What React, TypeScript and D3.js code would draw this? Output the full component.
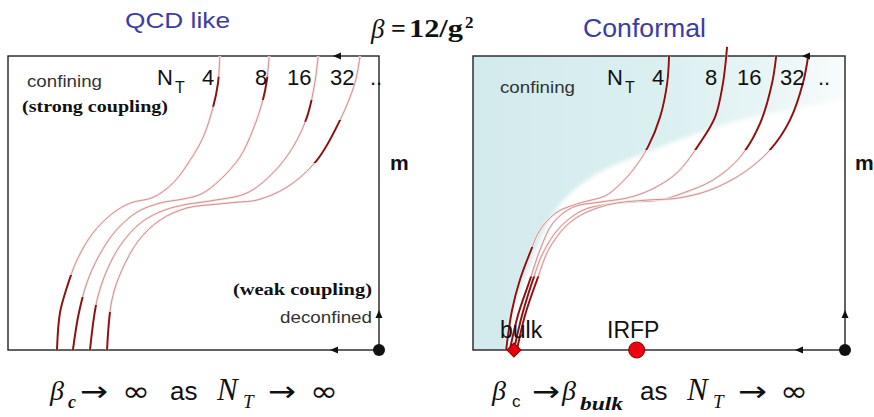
import React from "react";
import * as d3 from "d3";

type Pt = [number, number];

// ---- data (x: beta across the box 0..100, y: m from bottom 0..100) ----
const ntLabels = ["4", "8", "16", "32"];

// QCD-like panel: lines of constant N_T
const qcdNT4: Pt[] = [[13.2,0],[14,12.6],[15.9,21.4],[18.6,30.6],[22.9,39.8],[28.3,46.6],[33,50],[39.1,51.9],[44.5,56.8],[49.1,64.6],[52.6,72.4],[55.3,82.7],[56.6,90.8],[57.1,100]];
const qcdNT8: Pt[] = [[17.5,0],[19,12],[21.3,23],[24.5,32],[29,40.5],[34.8,46.9],[41,50],[47,51.3],[52,53],[57.1,57.8],[62.5,65.6],[66,74.8],[68.7,85],[69.8,92],[70.4,100]];
const qcdNT16: Pt[] = [[22.1,0],[24,17],[26.7,27.2],[30.5,36],[36,43.5],[42,47.5],[48,49.5],[55,50.8],[64.4,53.4],[71.4,60.2],[76.8,69],[80.6,79.3],[82.7,90.8],[83.6,100]];
const qcdNT32: Pt[] = [[26.7,0],[28,17],[30.7,27.2],[35.3,37.4],[41,44.2],[48.2,48.3],[56.3,49.6],[62,50.3],[67.1,51],[75.2,55.4],[83.3,64.6],[89.5,78.2],[93.5,90.8],[94.9,100]];

// Conformal panel
const confNT4: Pt[] = [[8.9,0],[10.5,13.6],[12.6,23.8],[15.3,33],[18,40.8],[22.6,46.9],[28.8,50],[35.5,52.4],[38.7,55.4],[43,61.2],[47,69],[50.3,79.3],[52.2,90.8],[52.7,100]];
const confNT8: Pt[] = [[9.9,0],[12.1,11.9],[15.3,23.8],[18,34],[21.5,43.2],[26.9,48.6],[34.1,50.3],[41.4,51.7],[47.6,54.4],[54.8,60.2],[61,70.4],[65.1,79.3],[67.2,90.8],[68.3,103.1]];
const confNT16: Pt[] = [[11,0],[13.2,11.9],[16.1,23.8],[18.8,33],[23.4,41.8],[29.6,47.6],[35,49.3],[41.4,50.3],[50.3,51],[56.5,53.4],[64.5,57.8],[71.8,65.6],[77.2,77.2],[80.4,90.8],[81.5,100]];
const confNT32: Pt[] = [[11.8,0],[14,11.9],[17.2,23.8],[20.7,35],[26.9,44.2],[36,49.3],[46.8,51],[54.8,51.6],[63.7,54.4],[72.6,60.2],[79.8,68],[85.2,78.2],[88.7,90.8],[90.1,100]];

// m-ranges where each line is drawn dark
const qcdDark: Pt[][] = [[[0,25.5],[82.7,92.9]],[[0,18],[85,92.9]],[[0,15.3],[77.6,85]],[[0,12.9],[63.6,78.2]]];
const confDark: Pt[][] = [[[0,35],[68,100]],[[0,25],[68,104]],[[0,25],[68,100]],[[0,25],[68,100]]];

// edge of the unshaded (deconfined) region in the conformal panel
const shadeEdge: Pt[] = [[9.1,0],[9.9,6.8],[11.8,17],[14.5,26.2],[17.2,35],[20.2,43.5],[23.9,50.3],[28.8,56.1],[34.1,60.5],[44.1,66],[57.5,72.4],[71,77.9],[88.7,82.7],[100,85.4]];

// special points on the beta axis of the conformal panel
const bulkBeta = 11.0;
const irfpBeta = 44.0;

// ---- layout ----
const W = 874, H = 417;
const leftBox = { x0: 8, x1: 379, y0: 56, y1: 350 };
const rightBox = { x0: 473, x1: 845, y0: 56, y1: 350 };
const SANS = "'Liberation Sans', Arial, sans-serif";
const SERIF = "'Liberation Serif', 'Times New Roman', serif";
const SYM = "'DejaVu Sans', sans-serif";
const BLUE = "#3c3ca6";
const THIN = "#cf9090";
const DARK = "#8c1212";

function scalesFor(b: typeof leftBox) {
  const x = d3.scaleLinear().domain([0, 100]).range([b.x0, b.x1]);
  const y = d3.scaleLinear().domain([0, 100]).range([b.y1, b.y0]);
  return { x, y };
}

function Arrow({ x, y, dir }: { x: number; y: number; dir: "left" | "up" }) {
  const L = 8, h = 3.5;
  const pts = dir === "left"
    ? [[x, y], [x + L, y - h], [x + L, y + h]]
    : [[x, y], [x - h, y + L], [x + h, y + L]];
  return <polygon points={pts.map(p => p.join(",")).join(" ")} fill="#111" />;
}

function Curves({ id, box, curves, dark }: { id: string; box: typeof leftBox; curves: Pt[][]; dark: Pt[][] }) {
  const { x, y } = scalesFor(box);
  const line = d3.line<Pt>().x(d => x(d[0])).y(d => y(d[1])).curve(d3.curveCatmullRom.alpha(0.5));
  return (
    <g>
      <defs>
        {dark.map((bands, i) => (
          <clipPath id={`${id}-dk-${i}`} key={i}>
            {bands.map((b, j) => (
              <rect key={j} x={box.x0 - 30} width={box.x1 - box.x0 + 60} y={y(b[1])} height={y(b[0]) - y(b[1])} />
            ))}
          </clipPath>
        ))}
      </defs>
      {curves.map((c, i) => (
        <g key={i}>
          <path d={line(c) || ""} fill="none" stroke="#f7e8e8" strokeWidth={2.6} />
          <path d={line(c) || ""} fill="none" stroke={THIN} strokeWidth={1} />
          <path d={line(c) || ""} fill="none" stroke={DARK} strokeWidth={1.9} clipPath={`url(#${id}-dk-${i})`} />
        </g>
      ))}
    </g>
  );
}

function NTRow({ nx, tx, numX, dotX }: { nx: number; tx: number; numX: number[]; dotX: number }) {
  return (
    <g fontFamily={SANS} fill="#111">
      <text x={nx} y={85} fontSize={22}>N</text>
      <text x={tx} y={93} fontSize={16}>T</text>
      {ntLabels.map((l, i) => (
        <text key={l} x={numX[i]} y={85} fontSize={22}>{l}</text>
      ))}
      <text x={dotX} y={85} fontSize={22}>..</text>
    </g>
  );
}

function Sym({ x, y, w, s }: { x: number; y: number; w: number; s: string }) {
  return <text x={x} y={y} fontFamily={SYM} fontSize={28} textLength={w} lengthAdjust="spacingAndGlyphs">{s}</text>;
}

export default function App() {
  const rs = scalesFor(rightBox);
  const edgeLine = d3.line<Pt>().x(d => rs.x(d[0])).y(d => rs.y(d[1])).curve(d3.curveCatmullRom.alpha(0.5));
  const whitePath = (edgeLine(shadeEdge) || "") + `L${rs.x(100) + 10},${rs.y(85.4)}L${rs.x(100) + 10},${rs.y(0) + 10}L${rs.x(shadeEdge[0][0])},${rs.y(0) + 10}Z`;

  return (
    <svg width={W} height={H} style={{ position: "absolute", left: 0, top: 0, background: "#fff" }}>
      <defs>
        <linearGradient id="teal" x1="0" y1="0" x2="1" y2="0">
          <stop offset="0" stopColor="#d3eaec" />
          <stop offset="0.5" stopColor="#daeff0" />
          <stop offset="0.8" stopColor="#e9f5f6" />
          <stop offset="1" stopColor="#f8fcfc" />
        </linearGradient>
        <filter id="soft" x="-10%" y="-10%" width="120%" height="120%">
          <feGaussianBlur stdDeviation="2" />
        </filter>
        <clipPath id="rbox">
          <rect x={rightBox.x0} y={rightBox.y0} width={rightBox.x1 - rightBox.x0} height={rightBox.y1 - rightBox.y0} />
        </clipPath>
      </defs>

      {/* titles */}
      <text x={125} y={28} fontFamily={SANS} fontSize={22} fill={BLUE} textLength={105} lengthAdjust="spacingAndGlyphs">QCD like</text>
      <text x={583} y={37} fontFamily={SANS} fontSize={25} fill={BLUE} textLength={123} lengthAdjust="spacingAndGlyphs">Conformal</text>
      <g fontFamily={SERIF} fill="#111">
        <text x={371} y={38} fontSize={27} fontStyle="italic">β</text>
        <text x={391} y={37} fontSize={26} fontWeight="bold">=</text>
        <text x={409} y={37} fontSize={26} fontWeight="bold" textLength={54} lengthAdjust="spacingAndGlyphs">12/g</text>
        <text x={465} y={28} fontSize={17} fontWeight="bold">2</text>
      </g>

      {/* right panel shading */}
      <g clipPath="url(#rbox)">
        <rect x={rightBox.x0} y={rightBox.y0} width={rightBox.x1 - rightBox.x0} height={rightBox.y1 - rightBox.y0} fill="url(#teal)" />
        <path d={whitePath} fill="#ffffff" filter="url(#soft)" />
      </g>

      {/* frames */}
      <g stroke="#222" strokeWidth={1.4} fill="none">
        <rect x={leftBox.x0} y={leftBox.y0} width={leftBox.x1 - leftBox.x0} height={leftBox.y1 - leftBox.y0} />
        <rect x={rightBox.x0} y={rightBox.y0} width={rightBox.x1 - rightBox.x0} height={rightBox.y1 - rightBox.y0} />
      </g>

      <Curves id="qcd" box={leftBox} curves={[qcdNT4, qcdNT8, qcdNT16, qcdNT32]} dark={qcdDark} />
      <Curves id="conf" box={rightBox} curves={[confNT4, confNT8, confNT16, confNT32]} dark={confDark} />

      {/* arrows and fixed points */}
      <Arrow x={333} y={leftBox.y0} dir="left" />
      <Arrow x={330} y={leftBox.y1} dir="left" />
      <Arrow x={leftBox.x1} y={310} dir="up" />
      <circle cx={leftBox.x1} cy={leftBox.y1} r={6} fill="#111" />
      <Arrow x={802} y={rightBox.y0} dir="left" />
      <Arrow x={795} y={rightBox.y1} dir="left" />
      <Arrow x={rightBox.x1} y={310} dir="up" />
      <circle cx={rightBox.x1} cy={rightBox.y1} r={6} fill="#111" />

      {/* labels left */}
      <text x={27} y={87} fontFamily={SANS} fontSize={17} fill="#333" textLength={75} lengthAdjust="spacingAndGlyphs">confining</text>
      <text x={22} y={112} fontFamily={SERIF} fontSize={16} fontWeight="bold" fill="#111" textLength={146} lengthAdjust="spacingAndGlyphs">(strong coupling)</text>
      <text x={233} y={295} fontFamily={SERIF} fontSize={16} fontWeight="bold" fill="#111" textLength={139} lengthAdjust="spacingAndGlyphs">(weak coupling)</text>
      <text x={280} y={323} fontFamily={SANS} fontSize={17} fill="#333" textLength={92} lengthAdjust="spacingAndGlyphs">deconfined</text>
      <NTRow nx={157} tx={175} numX={[202, 255, 287, 330]} dotX={370} />
      <text x={390} y={170} fontFamily={SANS} fontSize={21} fontWeight="bold" fill="#111">m</text>

      {/* labels right */}
      <text x={500} y={93} fontFamily={SANS} fontSize={17} fill="#333" textLength={75} lengthAdjust="spacingAndGlyphs">confining</text>
      <NTRow nx={607} tx={625} numX={[652, 705, 737, 780]} dotX={818} />
      <text x={855} y={170} fontFamily={SANS} fontSize={21} fontWeight="bold" fill="#111">m</text>
      <text x={500} y={338} fontFamily={SANS} fontSize={23} fill="#111">bulk</text>
      <text x={607} y={338} fontFamily={SANS} fontSize={23} fill="#111">IRFP</text>
      <path d={d3.symbol(d3.symbolSquare, 100)() || ""} transform={`translate(${rs.x(bulkBeta)},${rs.y(0)}) rotate(45)`} fill="#e60010" stroke="#8a0000" strokeWidth={1} />
      <circle cx={rs.x(irfpBeta)} cy={rs.y(0)} r={8} fill="#f00010" stroke="#8a0000" strokeWidth={1} />

      {/* bottom formulas */}
      <g fill="#111">
        <text x={50} y={400} fontFamily={SERIF} fontSize={28} fontStyle="italic">β</text>
        <text x={68} y={408} fontFamily={SERIF} fontSize={18} fontStyle="italic" fontWeight="bold">c</text>
        <Sym x={80} y={401} w={28} s="→" />
        <Sym x={122} y={401} w={28} s="∞" />
        <text x={170} y={400} fontFamily={SANS} fontSize={26}>as</text>
        <text x={217} y={400} fontFamily={SERIF} fontSize={31} fontStyle="italic">N</text>
        <text x={243} y={408} fontFamily={SERIF} fontSize={19} fontStyle="italic">T</text>
        <Sym x={268} y={401} w={28} s="→" />
        <Sym x={310} y={401} w={28} s="∞" />

        <text x={492} y={400} fontFamily={SERIF} fontSize={28} fontStyle="italic">β</text>
        <text x={512} y={407} fontFamily={SANS} fontSize={17}>c</text>
        <Sym x={532} y={401} w={28} s="→" />
        <text x={562} y={400} fontFamily={SERIF} fontSize={28} fontStyle="italic">β</text>
        <text x={580} y={410} fontFamily={SERIF} fontSize={19} fontStyle="italic" fontWeight="bold" textLength={43} lengthAdjust="spacingAndGlyphs">bulk</text>
        <text x={640} y={400} fontFamily={SANS} fontSize={26}>as</text>
        <text x={687} y={400} fontFamily={SERIF} fontSize={31} fontStyle="italic">N</text>
        <text x={713} y={408} fontFamily={SERIF} fontSize={19} fontStyle="italic">T</text>
        <Sym x={738} y={401} w={29} s="→" />
        <Sym x={780} y={401} w={28} s="∞" />
      </g>
    </svg>
  );
}
